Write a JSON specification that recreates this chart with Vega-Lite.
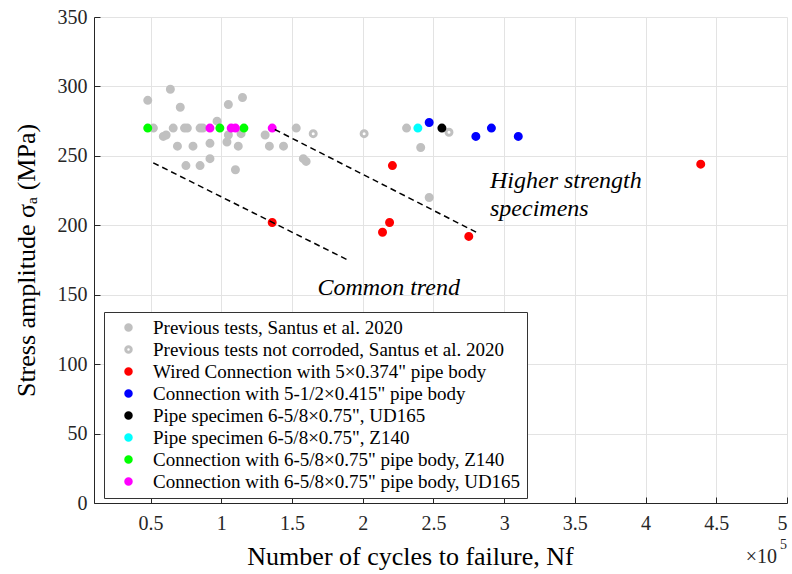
{
  "$schema": "https://vega.github.io/schema/vega-lite/v6.json",
  "width": 693,
  "height": 486,
  "autosize": {"type": "none"},
  "padding": {"left": 94, "top": 17, "right": 5, "bottom": 71},
  "background": "white",
  "config": {
    "view": {"stroke": null},
    "font": "Liberation Serif",
    "axis": {
      "labelFont": "Liberation Serif",
      "titleFont": "Liberation Serif",
      "labelFontSize": 20,
      "titleFontSize": 26,
      "titleFontWeight": "normal",
      "labelColor": "#262626",
      "titleColor": "#000000",
      "domainColor": "#262626",
      "tickColor": "#262626",
      "gridColor": "#e3e3e3",
      "gridWidth": 1,
      "tickSize": -6
    }
  },
  "datasets": {
    "pts": [
      {"N": 0.48, "S": 290, "series": "Previous tests, Santus et al. 2020"},
      {"N": 0.64, "S": 298, "series": "Previous tests, Santus et al. 2020"},
      {"N": 0.71, "S": 285, "series": "Previous tests, Santus et al. 2020"},
      {"N": 0.52, "S": 270, "series": "Previous tests, Santus et al. 2020"},
      {"N": 0.59, "S": 264, "series": "Previous tests, Santus et al. 2020"},
      {"N": 0.61, "S": 265, "series": "Previous tests, Santus et al. 2020"},
      {"N": 0.66, "S": 270, "series": "Previous tests, Santus et al. 2020"},
      {"N": 0.74, "S": 270, "series": "Previous tests, Santus et al. 2020"},
      {"N": 0.76, "S": 270, "series": "Previous tests, Santus et al. 2020"},
      {"N": 0.85, "S": 270, "series": "Previous tests, Santus et al. 2020"},
      {"N": 0.87, "S": 270, "series": "Previous tests, Santus et al. 2020"},
      {"N": 0.97, "S": 275, "series": "Previous tests, Santus et al. 2020"},
      {"N": 1.05, "S": 287, "series": "Previous tests, Santus et al. 2020"},
      {"N": 1.15, "S": 292, "series": "Previous tests, Santus et al. 2020"},
      {"N": 1.14, "S": 266, "series": "Previous tests, Santus et al. 2020"},
      {"N": 1.05, "S": 265, "series": "Previous tests, Santus et al. 2020"},
      {"N": 1.04, "S": 260, "series": "Previous tests, Santus et al. 2020"},
      {"N": 1.12, "S": 257, "series": "Previous tests, Santus et al. 2020"},
      {"N": 0.92, "S": 259, "series": "Previous tests, Santus et al. 2020"},
      {"N": 0.69, "S": 257, "series": "Previous tests, Santus et al. 2020"},
      {"N": 0.80, "S": 257, "series": "Previous tests, Santus et al. 2020"},
      {"N": 0.92, "S": 248, "series": "Previous tests, Santus et al. 2020"},
      {"N": 0.75, "S": 243, "series": "Previous tests, Santus et al. 2020"},
      {"N": 0.85, "S": 243, "series": "Previous tests, Santus et al. 2020"},
      {"N": 1.10, "S": 240, "series": "Previous tests, Santus et al. 2020"},
      {"N": 1.31, "S": 265, "series": "Previous tests, Santus et al. 2020"},
      {"N": 1.34, "S": 257, "series": "Previous tests, Santus et al. 2020"},
      {"N": 1.44, "S": 257, "series": "Previous tests, Santus et al. 2020"},
      {"N": 1.53, "S": 270, "series": "Previous tests, Santus et al. 2020"},
      {"N": 1.58, "S": 248, "series": "Previous tests, Santus et al. 2020"},
      {"N": 1.60, "S": 246, "series": "Previous tests, Santus et al. 2020"},
      {"N": 2.31, "S": 270, "series": "Previous tests, Santus et al. 2020"},
      {"N": 2.41, "S": 256, "series": "Previous tests, Santus et al. 2020"},
      {"N": 2.47, "S": 220, "series": "Previous tests, Santus et al. 2020"},
      {"N": 1.65, "S": 266, "series": "Previous tests not corroded, Santus et al. 2020"},
      {"N": 2.01, "S": 266, "series": "Previous tests not corroded, Santus et al. 2020"},
      {"N": 2.61, "S": 267, "series": "Previous tests not corroded, Santus et al. 2020"},
      {"N": 1.36, "S": 202, "series": "Wired Connection with 5×0.374\" pipe body"},
      {"N": 2.21, "S": 243, "series": "Wired Connection with 5×0.374\" pipe body"},
      {"N": 2.19, "S": 202, "series": "Wired Connection with 5×0.374\" pipe body"},
      {"N": 2.14, "S": 195, "series": "Wired Connection with 5×0.374\" pipe body"},
      {"N": 2.75, "S": 192, "series": "Wired Connection with 5×0.374\" pipe body"},
      {"N": 4.39, "S": 244, "series": "Wired Connection with 5×0.374\" pipe body"},
      {"N": 2.47, "S": 274, "series": "Connection with 5-1/2×0.415\" pipe body"},
      {"N": 2.80, "S": 264, "series": "Connection with 5-1/2×0.415\" pipe body"},
      {"N": 2.91, "S": 270, "series": "Connection with 5-1/2×0.415\" pipe body"},
      {"N": 3.10, "S": 264, "series": "Connection with 5-1/2×0.415\" pipe body"},
      {"N": 2.56, "S": 270, "series": "Pipe specimen 6-5/8×0.75\", UD165"},
      {"N": 2.39, "S": 270, "series": "Pipe specimen 6-5/8×0.75\", Z140"},
      {"N": 0.48, "S": 270, "series": "Connection with 6-5/8×0.75\" pipe body, Z140"},
      {"N": 0.99, "S": 270, "series": "Connection with 6-5/8×0.75\" pipe body, Z140"},
      {"N": 1.16, "S": 270, "series": "Connection with 6-5/8×0.75\" pipe body, Z140"},
      {"N": 0.92, "S": 270, "series": "Connection with 6-5/8×0.75\" pipe body, UD165"},
      {"N": 1.07, "S": 270, "series": "Connection with 6-5/8×0.75\" pipe body, UD165"},
      {"N": 1.10, "S": 270, "series": "Connection with 6-5/8×0.75\" pipe body, UD165"},
      {"N": 1.36, "S": 270, "series": "Connection with 6-5/8×0.75\" pipe body, UD165"}
    ],
    "trends": [
      {"N": 1.378, "S": 269, "trend": "Higher strength"},
      {"N": 2.803, "S": 195, "trend": "Higher strength"},
      {"N": 0.519, "S": 245, "trend": "Common"},
      {"N": 1.894, "S": 175, "trend": "Common"}
    ],
    "one": [{}]
  },
  "layer": [
    {
      "data": {"name": "pts"},
      "mark": {"type": "point", "filled": true, "size": 36, "strokeWidth": 3, "opacity": 1},
      "encoding": {
        "x": {
          "field": "N", "type": "quantitative",
          "scale": {"domain": [0.1, 5], "nice": false, "zero": false},
          "axis": {
            "values": [0.5, 1, 1.5, 2, 2.5, 3, 3.5, 4, 4.5, 5],
            "format": "~g",
            "labelFont": "Liberation Serif",
            "titleFont": "Liberation Serif",
            "title": "Number of cycles to failure, Nf",
            "labelPadding": 16,
            "titlePadding": 10,
            "titleX": 316
          }
        },
        "y": {
          "field": "S", "type": "quantitative",
          "scale": {"domain": [0, 350], "nice": false},
          "axis": {
            "values": [0, 50, 100, 150, 200, 250, 300, 350],
            "labelFont": "Liberation Serif",
            "titleFont": "Liberation Serif",
            "title": "Stress amplitude σₐ (MPa)",
            "labelPadding": 13,
            "titlePadding": 18
          }
        },
        "fill": {
          "field": "series", "type": "nominal",
          "scale": {
            "domain": [
              "Previous tests, Santus et al. 2020",
              "Previous tests not corroded, Santus et al. 2020",
              "Wired Connection with 5×0.374\" pipe body",
              "Connection with 5-1/2×0.415\" pipe body",
              "Pipe specimen 6-5/8×0.75\", UD165",
              "Pipe specimen 6-5/8×0.75\", Z140",
              "Connection with 6-5/8×0.75\" pipe body, Z140",
              "Connection with 6-5/8×0.75\" pipe body, UD165"
            ],
            "range": ["#c0c0c0", "#ffffff", "#ff0000", "#0000ff", "#000000", "#00ffff", "#00ff00", "#ff00ff"]
          },
          "legend": {
            "title": null, "orient": "none", "legendX": 10, "legendY": 295,
            "padding": 6, "fillColor": "white", "strokeColor": "#333333",
            "labelFont": "Liberation Serif", "labelFontSize": 19, "labelColor": "#000000",
            "labelLimit": 1000, "symbolType": "circle", "symbolSize": 30, "symbolStrokeWidth": 3,
            "symbolOffset": 9, "labelOffset": 15, "rowPadding": 2
          }
        },
        "stroke": {
          "field": "series", "type": "nominal",
          "scale": {
            "domain": [
              "Previous tests, Santus et al. 2020",
              "Previous tests not corroded, Santus et al. 2020",
              "Wired Connection with 5×0.374\" pipe body",
              "Connection with 5-1/2×0.415\" pipe body",
              "Pipe specimen 6-5/8×0.75\", UD165",
              "Pipe specimen 6-5/8×0.75\", Z140",
              "Connection with 6-5/8×0.75\" pipe body, Z140",
              "Connection with 6-5/8×0.75\" pipe body, UD165"
            ],
            "range": ["#c0c0c0", "#c0c0c0", "#ff0000", "#0000ff", "#000000", "#00ffff", "#00ff00", "#ff00ff"]
          },
          "legend": {
            "title": null, "orient": "none", "legendX": 10, "legendY": 295,
            "padding": 6, "fillColor": "white", "strokeColor": "#333333",
            "labelFont": "Liberation Serif", "labelFontSize": 19, "labelColor": "#000000",
            "labelLimit": 1000, "symbolType": "circle", "symbolSize": 30, "symbolStrokeWidth": 3,
            "symbolOffset": 9, "labelOffset": 15, "rowPadding": 2
          }
        }
      }
    },
    {
      "data": {"name": "trends"},
      "mark": {"type": "line", "color": "#000000", "strokeWidth": 1.5, "strokeDash": [6, 4]},
      "encoding": {
        "x": {"field": "N", "type": "quantitative"},
        "y": {"field": "S", "type": "quantitative"},
        "detail": {"field": "trend", "type": "nominal"}
      }
    },
    {
      "data": {"name": "one"},
      "mark": {"type": "text", "text": "Higher strength", "font": "Liberation Serif", "fontStyle": "italic", "fontSize": 24, "align": "left", "baseline": "middle", "color": "#000000"},
      "encoding": {"x": {"datum": 2.9}, "y": {"datum": 232}}
    },
    {
      "data": {"name": "one"},
      "mark": {"type": "text", "text": "specimens", "font": "Liberation Serif", "fontStyle": "italic", "fontSize": 24, "align": "left", "baseline": "middle", "color": "#000000"},
      "encoding": {"x": {"datum": 2.9}, "y": {"datum": 212}}
    },
    {
      "data": {"name": "one"},
      "mark": {"type": "text", "text": "Common trend", "font": "Liberation Serif", "fontStyle": "italic", "fontSize": 24, "align": "left", "baseline": "middle", "color": "#000000"},
      "encoding": {"x": {"datum": 1.68}, "y": {"datum": 155}}
    },
    {
      "data": {"name": "one"},
      "mark": {"type": "text", "text": "×10", "font": "Liberation Serif", "fontSize": 20, "align": "right", "baseline": "middle", "dx": -10, "color": "#262626"},
      "encoding": {"x": {"datum": 5}, "y": {"datum": -39}}
    },
    {
      "data": {"name": "one"},
      "mark": {"type": "text", "text": "5", "font": "Liberation Serif", "fontSize": 14, "align": "right", "baseline": "middle", "dx": 0, "color": "#262626"},
      "encoding": {"x": {"datum": 5}, "y": {"datum": -30}}
    }
  ]
}
